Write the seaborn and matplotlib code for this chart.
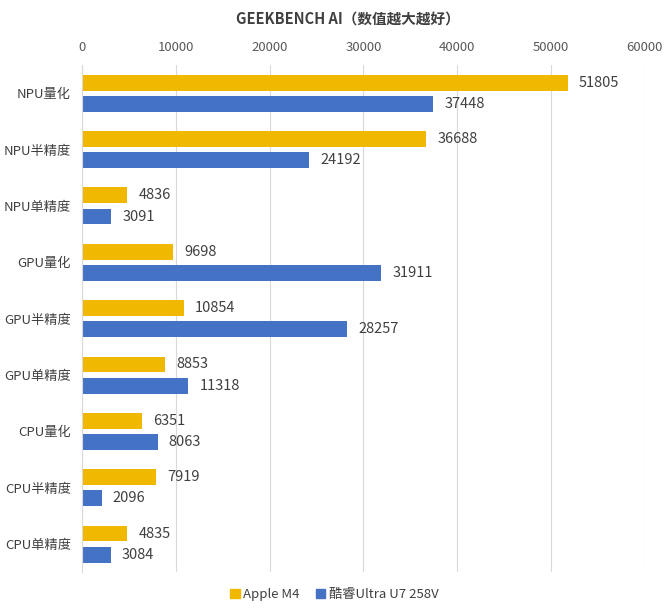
import numpy as np
import pandas as pd
import matplotlib.pyplot as plt
import seaborn as sns

categories = ['NPU量化', 'NPU半精度', 'NPU单精度', 'GPU量化', 'GPU半精度', 'GPU单精度',
              'CPU量化', 'CPU半精度', 'CPU单精度']
apple_m4 = [51805, 36688, 4836, 9698, 10854, 8853, 6351, 7919, 4835]
core_ultra = [37448, 24192, 3091, 31911, 28257, 11318, 8063, 2096, 3084]
series = ['Apple M4', '酷睿Ultra U7 258V']
colors = ['#F0B800', '#4472C4']
xticks = [0, 10000, 20000, 30000, 40000, 50000, 60000]

sns.set_style('white')
plt.rcParams['font.family'] = ['Noto Sans CJK SC', 'DejaVu Sans']

df = pd.DataFrame({
    'cat': categories * 2,
    'val': apple_m4 + core_ultra,
    'series': [series[0]] * len(categories) + [series[1]] * len(categories),
})

fig = plt.figure(figsize=(6.69, 6.14), dpi=100)
ax = fig.add_axes([0.1226, 0.068, 0.841, 0.826])
sns.barplot(data=df, y='cat', x='val', hue='series', orient='h', palette=colors,
            saturation=1, width=0.75, gap=0.25, linewidth=0, ax=ax, legend=False)

txt = '#404040'
for cont in ax.containers:
    ax.bar_label(cont, padding=8, fontsize=10.5, color=txt)

ax.set_xlim(0, 60000)
ax.set_ylim(len(categories) - 0.5, -0.5)
ax.set_xticks(xticks)
ax.xaxis.tick_top()
ax.tick_params(axis='x', length=0, labelsize=9.5, labelcolor='#595959', pad=8)
ax.tick_params(axis='y', length=0, labelsize=9.5, labelcolor=txt, pad=8)
ax.set_yticks(np.arange(-0.5, len(categories), 1), minor=True)
ax.tick_params(axis='y', which='minor', length=4, color='#D9D9D9', width=1)
ax.grid(axis='x', color='#D9D9D9', linewidth=0.8)
ax.set_axisbelow(True)
ax.set_xlabel('')
ax.set_ylabel('')
for s in ['top', 'right', 'bottom']:
    ax.spines[s].set_visible(False)
ax.spines['left'].set_color('#D9D9D9')

fig.text(0.52, 0.97, 'GEEKBENCH AI（数值越大越好）', ha='center', va='center',
         fontsize=10.5, fontweight='bold', color=txt)

handles = [plt.Rectangle((0, 0), 1, 1, color=c) for c in colors]
fig.legend(handles, series, loc='center', bbox_to_anchor=(0.5, 0.032), ncol=2,
           frameon=False, fontsize=9.5, handlelength=0.7, handleheight=0.7,
           handletextpad=0.3, columnspacing=1.2, labelcolor=txt)

fig.savefig('out.png', dpi=100)
